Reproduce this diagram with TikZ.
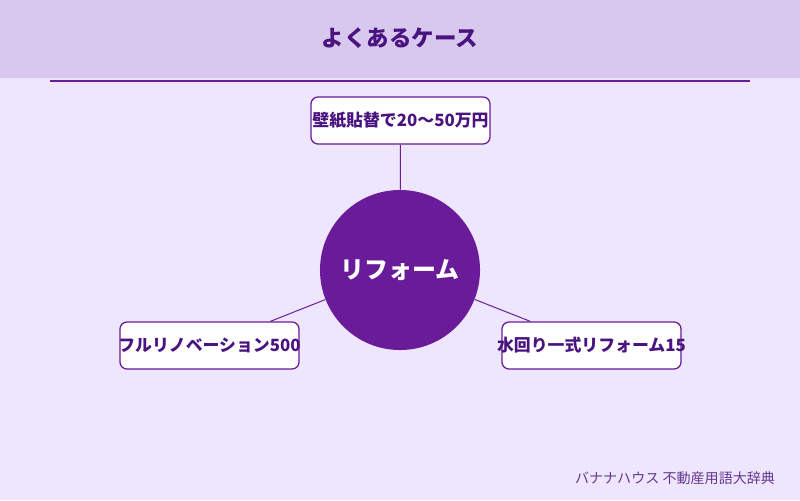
\documentclass[tikz,border=0pt]{standalone}
\usepackage{fontspec}
\setmainfont{Noto Sans CJK JP}
\usetikzlibrary{positioning}
\definecolor{bgcolor}{RGB}{238,230,253}
\definecolor{headcolor}{RGB}{217,200,238}
\definecolor{darkpurple}{RGB}{74,20,128}
\definecolor{mainpurple}{RGB}{106,27,154}
\tikzstyle{casebox}=[draw=mainpurple,line width=0.9pt,fill=white,rounded corners=5pt,minimum width=4.475cm,minimum height=1.175cm,inner sep=0pt,font=\fontsize{12}{14}\selectfont\bfseries,text=darkpurple]
\tikzstyle{caseedge}=[draw=mainpurple,line width=0.7pt]
\newcommand{\boxtext}[1]{\makebox[0pt]{#1}}

\begin{document}
\begin{tikzpicture}[x=0.025cm,y=-0.025cm]
\fill[bgcolor] (0,0) rectangle (800,500);
\fill[headcolor] (0,0) rectangle (800,78);
\draw[mainpurple,line width=1pt] (50,81) -- (750,81);
\node[text=darkpurple,font=\fontsize{16}{18}\selectfont\bfseries] (title) at (400,38) {よくあるケース};

\node[circle,fill=mainpurple,minimum size=4cm,inner sep=0pt,text=white,font=\fontsize{17}{19}\selectfont\bfseries] (reform) at (400,270) {リフォーム};

\node[casebox] (wall) at (400.5,120.5) {\boxtext{壁紙貼替で20〜50万円}};
\node[casebox] (full) at (209.5,345.5) {\boxtext{フルリノベーション500}};
\node[casebox] (water) at (591.5,345.5) {\boxtext{水回り一式リフォーム15}};

\foreach \dest in {wall,full,water}
    \path[caseedge] (reform) -- (\dest);

\node[anchor=east,text=darkpurple!85,font=\fontsize{10}{12}\selectfont] (credit) at (780,478) {バナナハウス 不動産用語大辞典};
\end{tikzpicture}
\end{document}
